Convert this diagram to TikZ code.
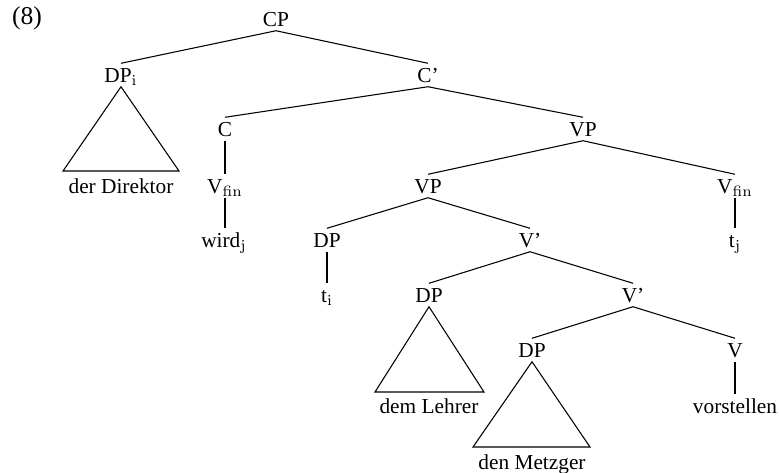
\documentclass[tikz,border=0pt]{standalone}
\usepackage[no-math]{fontspec}
\setmainfont{Liberation Serif}
\begin{document}
\begin{tikzpicture}[x=0.469pt,y=-0.469pt,
  lab/.style={inner xsep=0pt,inner ysep=2pt,text height=6.6pt,text depth=0pt,font=\fontsize{10}{12}\selectfont},
  edge/.style={line width=0.5pt}]
\useasboundingbox (0,0) rectangle (779,472);
\node[lab,font=\fontsize{12}{14}\selectfont,text height=8pt,text depth=2.5pt] (ex) at (27,19) {(8)};
\node[lab] (cp) at (276,19) {CP};
\node[lab] (dpi) at (121,75) {DP$_{\mathrm{i}}$};
\node[lab] (cbar) at (428,75) {C’};
\node[lab] (c) at (225,129) {C};
\node[lab] (vp1) at (583,129) {VP};
\node[lab] (vfin1) at (225,186) {V$_{\mathrm{fin}}$};
\node[lab] (vp2) at (428,186) {VP};
\node[lab] (vfin2) at (735,186) {V$_{\mathrm{fin}}$};
\node[lab] (dir) at (121,186) {der Direktor};
\node[lab] (wird) at (224,240) {wird$_{\mathrm{j}}$};
\node[lab] (dp1) at (327,240) {DP};
\node[lab] (vbar1) at (530,240) {V’};
\node[lab] (tj) at (735,240) {t$_{\mathrm{j}}$};
\node[lab] (ti) at (327,295) {t$_{\mathrm{i}}$};
\node[lab] (dp2) at (429,295) {DP};
\node[lab] (vbar2) at (633,295) {V’};
\node[lab] (dp3) at (532,350) {DP};
\node[lab] (v) at (735,350) {V};
\node[lab] (lehrer) at (429,406) {dem Lehrer};
\node[lab] (vorst) at (735,406) {vorstellen};
\node[lab] (metzger) at (532,462) {den Metzger};
% triangle corners
\coordinate (t1l) at (63,171);
\coordinate (t1r) at (179,171);
\coordinate (t2l) at (375,392);
\coordinate (t2r) at (484,392);
\coordinate (t3l) at (473,447);
\coordinate (t3r) at (590,447);
% edges
\draw[edge] (cp.south) -- (dpi.north);
\draw[edge] (cp.south) -- (cbar.north);
\draw[edge] (cbar.south) -- (c.north);
\draw[edge] (cbar.south) -- (vp1.north);
\draw[edge] (c.south) -- (vfin1.north);
\draw[edge] (vfin1.south) -- (wird.north -| vfin1.south);
\draw[edge] (vp1.south) -- (vp2.north);
\draw[edge] (vp1.south) -- (vfin2.north);
\draw[edge] (vfin2.south) -- (tj.north);
\draw[edge] (vp2.south) -- (dp1.north);
\draw[edge] (vp2.south) -- (vbar1.north);
\draw[edge] (dp1.south) -- (ti.north);
\draw[edge] (vbar1.south) -- (dp2.north);
\draw[edge] (vbar1.south) -- (vbar2.north);
\draw[edge] (vbar2.south) -- (dp3.north);
\draw[edge] (vbar2.south) -- (v.north);
\draw[edge] (v.south) -- (vorst.north);
\draw[edge] (dpi.south) -- (t1l) -- (t1r) -- cycle;
\draw[edge] (dp2.south) -- (t2l) -- (t2r) -- cycle;
\draw[edge] (dp3.south) -- (t3l) -- (t3r) -- cycle;
\end{tikzpicture}
\end{document}
